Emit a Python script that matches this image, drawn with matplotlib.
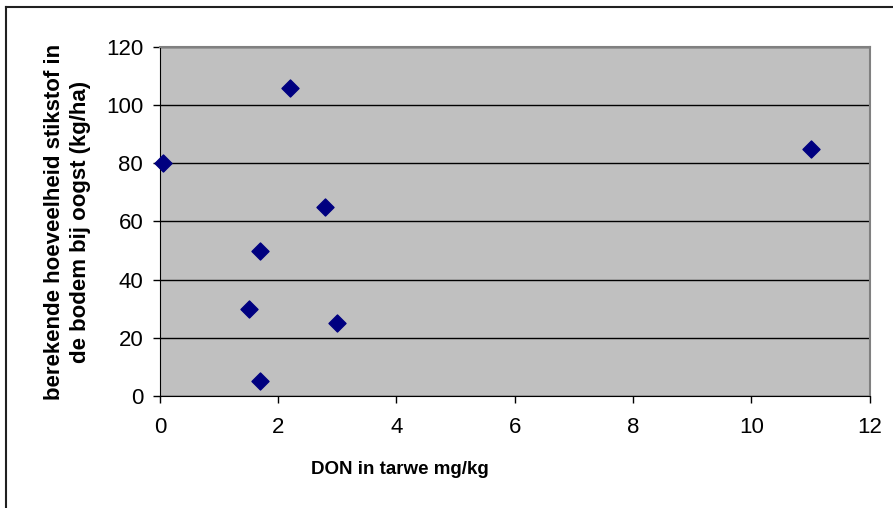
import matplotlib.pyplot as plt
from matplotlib.lines import Line2D

plt.rcParams['font.family'] = ['Liberation Sans', 'DejaVu Sans']

# DON in wheat vs calculated soil nitrogen at harvest
don = [0.05, 2.2, 2.8, 1.7, 1.5, 3.0, 1.7, 11.0]
stikstof = [80, 106, 65, 50, 30, 25, 5, 85]

fig = plt.figure(figsize=(8.93, 5.08), dpi=100)
ax = fig.add_axes([0.179, 0.2205, 0.795, 0.687])
ax.set_facecolor('#C0C0C0')

ax.scatter(don, stikstof, marker='D', s=75, color='#000080', zorder=3, clip_on=False)

ax.set_xlim(0, 12)
ax.set_ylim(0, 120)
ax.set_xticks(range(0, 13, 2))
ax.set_yticks(range(0, 121, 20))
ax.yaxis.grid(True, color='black', linewidth=1)
ax.set_axisbelow(True)

for side in ['top', 'right']:
    ax.spines[side].set_color('#808080')
    ax.spines[side].set_linewidth(1.5)
for side in ['left', 'bottom']:
    ax.spines[side].set_color('black')
ax.tick_params(direction='out', length=5, width=1, labelsize=16)
ax.tick_params(axis='x', pad=10)
ax.tick_params(axis='y', pad=7)

ax.set_xlabel('DON in tarwe mg/kg', fontsize=13.5, fontweight='bold')
ax.xaxis.set_label_coords(0.338, -0.185)
ax.set_ylabel('berekende hoeveelheid stikstof in\nde bodem bij oogst (kg/ha)',
              fontsize=16, fontweight='bold', linespacing=1.3, labelpad=11)

# outer chart border (only top and left visible, the rest is cropped)
fig.lines.append(Line2D([6 / 893, 1], [1 - 7 / 508, 1 - 7 / 508],
                        transform=fig.transFigure, color='#202020', linewidth=1.5))
fig.lines.append(Line2D([6 / 893, 6 / 893], [0, 1 - 7 / 508],
                        transform=fig.transFigure, color='#202020', linewidth=1.5))

fig.savefig('out.png', dpi=100)
